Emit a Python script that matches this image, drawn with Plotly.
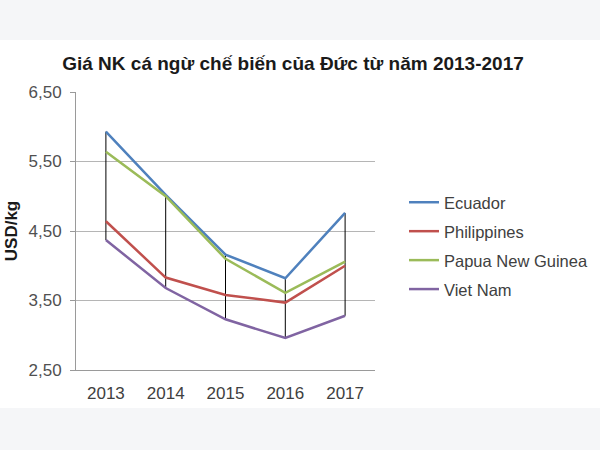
import plotly.graph_objects as go

years = ["2013", "2014", "2015", "2016", "2017"]
ecuador = [5.93, 5.02, 4.16, 3.82, 4.76]
philippines = [4.64, 3.83, 3.58, 3.47, 4.00]
png = [5.64, 5.00, 4.10, 3.61, 4.06]
vietnam = [4.37, 3.68, 3.23, 2.96, 3.28]

series = [
    ("Ecuador", ecuador, "#4F81BD"),
    ("Philippines", philippines, "#C0504D"),
    ("Papua New Guinea", png, "#9BBB59"),
    ("Viet Nam", vietnam, "#8064A2"),
]

title = "Giá NK cá ngừ chế biến của Đức từ năm 2013-2017"
y_ticks = [2.5, 3.5, 4.5, 5.5, 6.5]

fig = go.Figure()

# high-low lines
hx, hy = [], []
for i, yr in enumerate(years):
    vals = [s[1][i] for s in series]
    hx += [yr, yr, None]
    hy += [max(vals), min(vals), None]
fig.add_trace(go.Scatter(x=hx, y=hy, mode="lines", line=dict(color="#000000", width=1),
                         showlegend=False, hoverinfo="skip"))

for name, vals, col in series:
    fig.add_trace(go.Scatter(x=years, y=vals, mode="lines", name=name, legendgroup=name,
                             line=dict(color=col, width=2.5)))

L, R, T, B = 76, 375, 92, 370
W, H = 600, 450
pw, ph = R - L, B - T

fig.add_shape(type="rect", xref="paper", yref="paper",
              x0=-L / pw - 0.1, x1=(W - L) / pw + 0.1,
              y0=(B - 408) / ph, y1=(B - 40) / ph,
              fillcolor="white", line_width=0, layer="below")

fig.update_layout(
    width=W, height=H,
    margin=dict(l=L, r=W - R, t=T, b=H - B, autoexpand=False),
    paper_bgcolor="#f5f6f8",
    plot_bgcolor="white",
    separators=",.",
    font=dict(family="Liberation Sans, Arial, sans-serif", size=17, color="#404040"),
    title=dict(text="<b>" + title + "</b>", x=293 / W, xanchor="center",
               y=1 - 63 / H, yanchor="middle",
               font=dict(size=19, color="#1a1a1a")),
    legend=dict(x=(404 - L) / pw, xanchor="left", y=(B - 185) / ph, yanchor="top",
                tracegroupgap=4.5, font=dict(size=16.5, color="#404040"),
                bgcolor="rgba(0,0,0,0)"),
    showlegend=True,
)

fig.update_xaxes(type="category", range=[-0.5, 4.5], showgrid=False,
                 showline=True, linecolor="#9a9a9a", linewidth=1,
                 ticks="", tickfont=dict(size=17, color="#404040"),
                 ticklabelstandoff=8)
fig.update_yaxes(range=[2.5, 6.5], tickvals=y_ticks, tickformat=".2f",
                 showgrid=True, gridcolor="#b5b5b5", gridwidth=1,
                 showline=True, linecolor="#9a9a9a", linewidth=1,
                 ticks="outside", ticklen=5, tickcolor="#9a9a9a",
                 tickfont=dict(size=17, color="#505050"),
                 ticklabelstandoff=5,
                 zeroline=False,
                 title=dict(text="<b>USD/kg</b>", font=dict(size=17, color="#1a1a1a"),
                            standoff=6))

fig.write_html("out.html")
